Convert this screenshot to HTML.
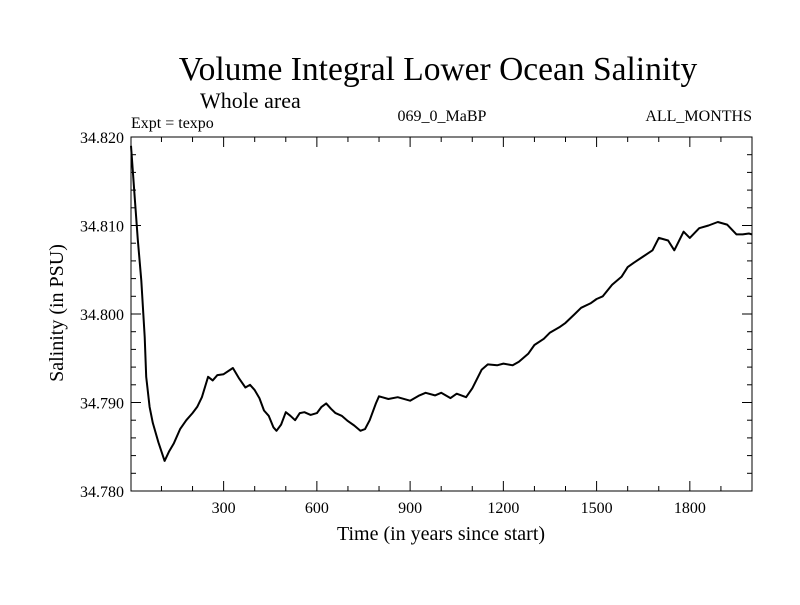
<!DOCTYPE html>
<html><head><meta charset="utf-8"><style>
body{margin:0;background:#fff;}
svg text{font-family:"Liberation Serif",serif;fill:#000;}
</style></head><body>
<svg id="chart" width="800" height="600" xmlns="http://www.w3.org/2000/svg">
<text x="438" y="80" font-size="33.5" text-anchor="middle">Volume Integral Lower Ocean Salinity</text>
<text x="200" y="108" font-size="22">Whole area</text>
<text x="131" y="128" font-size="16">Expt = texpo</text>
<text x="442" y="121" font-size="16" text-anchor="middle">069_0_MaBP</text>
<text x="752" y="121" font-size="16" text-anchor="end">ALL_MONTHS</text>
<text transform="translate(63,313) rotate(-90)" font-size="20" text-anchor="middle">Salinity (in PSU)</text>
<text x="441" y="540" font-size="20" text-anchor="middle">Time (in years since start)</text>
<g id="axes"></g>
<path id="series" fill="none" stroke="#000" stroke-width="2" stroke-linejoin="round"/>
</svg>
<script>
const years=[0,7,14,24,35,46,51,62,72,90,110,125,140,160,180,200,215,230,250,265,280,300,330,350,370,385,400,415,430,445,460,470,485,500,515,530,545,560,580,600,615,630,645,660,680,700,720,740,755,770,790,800,830,860,900,930,950,980,1000,1030,1050,1080,1100,1130,1150,1180,1200,1230,1250,1280,1300,1330,1350,1380,1400,1430,1450,1480,1500,1520,1550,1580,1600,1620,1650,1680,1700,1730,1750,1780,1800,1830,1860,1890,1920,1950,1970,1990,2000];
const salinity=[34.819,34.8165,34.8132,34.8084,34.8038,34.7974,34.7929,34.7895,34.7877,34.7855,34.7834,34.7845,34.7854,34.7870,34.7880,34.7888,34.7895,34.7906,34.7929,34.7925,34.7931,34.7932,34.7939,34.7927,34.7917,34.7920,34.7914,34.7905,34.7891,34.7885,34.7872,34.7868,34.7875,34.7889,34.7885,34.7880,34.7888,34.7889,34.7886,34.7888,34.7895,34.7899,34.7893,34.7888,34.7885,34.7879,34.7874,34.7868,34.7870,34.7880,34.7899,34.7907,34.7904,34.7906,34.7902,34.7908,34.7911,34.7908,34.7911,34.7905,34.7910,34.7906,34.7916,34.7937,34.7943,34.7942,34.7944,34.7942,34.7946,34.7955,34.7965,34.7972,34.7979,34.7985,34.7990,34.8000,34.8007,34.8012,34.8017,34.8020,34.8033,34.8042,34.8053,34.8058,34.8065,34.8072,34.8086,34.8083,34.8072,34.8093,34.8086,34.8097,34.8100,34.8104,34.8101,34.8090,34.8090,34.8091,34.8090];
const xTicks=[300,600,900,1200,1500,1800];
const yTicks=[34.780,34.790,34.800,34.810,34.820];
const L=131,R=752,T=137,B=491,X0=2,X1=2000,Y0=34.780,Y1=34.820;
const sx=v=>L+(v-X0)/(X1-X0)*(R-L);
const sy=v=>B-(v-Y0)/(Y1-Y0)*(B-T);
const NS="http://www.w3.org/2000/svg";
const g=document.getElementById('axes');
function line(x1,y1,x2,y2){const l=document.createElementNS(NS,'line');l.setAttribute('x1',x1);l.setAttribute('y1',y1);l.setAttribute('x2',x2);l.setAttribute('y2',y2);l.setAttribute('stroke','#000');l.setAttribute('stroke-width','1');g.appendChild(l);return l;}
const frame=document.createElementNS(NS,'rect');
frame.setAttribute('x',L);frame.setAttribute('y',T);frame.setAttribute('width',R-L);frame.setAttribute('height',B-T);
frame.setAttribute('fill','none');frame.setAttribute('stroke','#000');


g.appendChild(frame);
for(let v=100;v<2000;v+=100){const x=sx(v);const big=v%300===0;const t1=line(x,B,x,B-(big?10:5));const t2=line(x,T,x,T+(big?10:5));



}
for(let i=0;i<=20;i++){const v=Y0+i*0.002;const y=sy(v);const big=i%5===0;const t1=line(L,y,L+(big?10:5),y);const t2=line(R,y,R-(big?10:5),y);



}
xTicks.forEach(v=>{const t=document.createElementNS(NS,'text');t.setAttribute('x',sx(v));t.setAttribute('y',B+22);t.setAttribute('font-size','16');t.setAttribute('text-anchor','middle');t.textContent=v;


g.appendChild(t);});
yTicks.forEach(v=>{const t=document.createElementNS(NS,'text');t.setAttribute('x',L-7);t.setAttribute('y',sy(v)+6);t.setAttribute('font-size','16');t.setAttribute('text-anchor','end');t.textContent=v.toFixed(3);


g.appendChild(t);});
document.getElementById('series').setAttribute('d',years.map((y,i)=>(i?'L':'M')+sx(Math.max(y,X0)).toFixed(1)+','+sy(salinity[i]).toFixed(1)).join(''));
</script>
</body></html>
